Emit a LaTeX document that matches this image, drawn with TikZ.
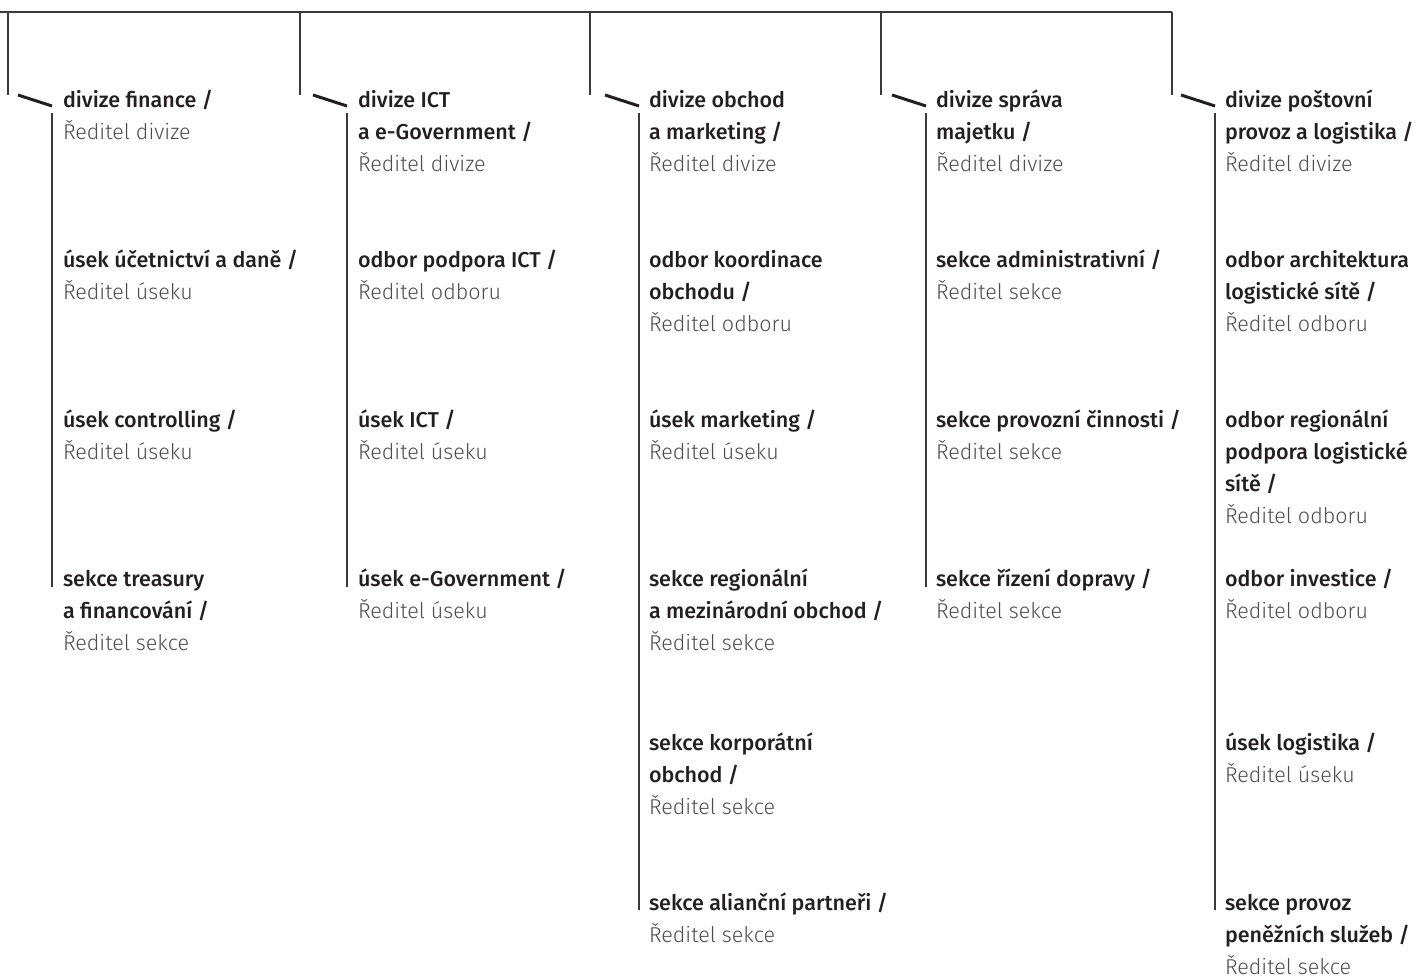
\documentclass[tikz,border=0pt]{standalone}
\usepackage{fontspec}
\setmainfont{Fira Sans}
\newfontfamily\medf{Fira Sans Medium}
\newfontfamily\lightf{Fira Sans Light}
\definecolor{ink}{HTML}{231F20}
\definecolor{soft}{HTML}{4D4D4F}
\definecolor{rule}{HTML}{3A3A3A}
\newcommand{\hd}[1]{{\medf\color{ink}#1}}
\newcommand{\rl}[1]{{\lightf\color{soft}#1}}
\newcommand{\blk}[1]{\parbox[t]{300pt}{\raggedright\leavevmode #1}}
\tikzset{
  org/.style={anchor=base west, inner sep=0pt, outer sep=0pt,
    font=\fontsize{21.5}{32}\selectfont},
  conn/.style={draw=rule, line width=1.2pt},
  tick/.style={draw=ink, line width=3pt, line cap=butt}
}
\begin{document}
\begin{tikzpicture}[x=1pt,y=-1pt]
\useasboundingbox (0,0) rectangle (1419,977);
% top bar
\coordinate (t0) at (0,12);
\coordinate (t1) at (8,12);
\coordinate (t2) at (300,12);
\coordinate (t3) at (590,12);
\coordinate (t4) at (881,12);
\coordinate (t5) at (1172,12);
\draw[conn] (t0) -- (t5);
% drops
\coordinate (d1) at (8,95);
\coordinate (d2) at (300,95);
\coordinate (d3) at (590,95);
\coordinate (d4) at (881,95);
\coordinate (d5) at (1172,95);
\foreach \i in {1,...,5} \draw[conn] (t\i) -- (d\i);
% ticks
\coordinate (k1a) at (18,95);   \coordinate (k1b) at (52,106);
\coordinate (k2a) at (313,95);  \coordinate (k2b) at (347,106);
\coordinate (k3a) at (605,95);  \coordinate (k3b) at (639,106);
\coordinate (k4a) at (892,95);  \coordinate (k4b) at (926,106);
\coordinate (k5a) at (1181,95); \coordinate (k5b) at (1215,106);
\foreach \i in {1,...,5} \draw[tick] (k\i a) -- (k\i b);
% column lines
\coordinate (v1a) at (52,113);   \coordinate (v1b) at (52,587);
\coordinate (v2a) at (347,113);  \coordinate (v2b) at (347,587);
\coordinate (v3a) at (639,113);  \coordinate (v3b) at (639,910);
\coordinate (v4a) at (926,113);  \coordinate (v4b) at (926,587);
\coordinate (v5a) at (1215,113); \coordinate (v5b) at (1215,910);
\foreach \i in {1,...,5} \draw[conn] (v\i a) -- (v\i b);
% column 1
\node[org] (a1) at (63,107) {\blk{\hd{divize finance /}\\\rl{Ředitel divize}}};
\node[org] (a2) at (63,267) {\blk{\hd{úsek účetnictví a daně /}\\\rl{Ředitel úseku}}};
\node[org] (a3) at (63,427) {\blk{\hd{úsek controlling /}\\\rl{Ředitel úseku}}};
\node[org] (a4) at (63,586) {\blk{\hd{sekce treasury}\\\hd{a financování /}\\\rl{Ředitel sekce}}};
% column 2
\node[org] (b1) at (358,107) {\blk{\hd{divize ICT}\\\hd{a e-Government /}\\\rl{Ředitel divize}}};
\node[org] (b2) at (358,267) {\blk{\hd{odbor podpora ICT /}\\\rl{Ředitel odboru}}};
\node[org] (b3) at (358,427) {\blk{\hd{úsek ICT /}\\\rl{Ředitel úseku}}};
\node[org] (b4) at (358,586) {\blk{\hd{úsek e-Government /}\\\rl{Ředitel úseku}}};
% column 3
\node[org] (c1) at (649,107) {\blk{\hd{divize obchod}\\\hd{a marketing /}\\\rl{Ředitel divize}}};
\node[org] (c2) at (649,267) {\blk{\hd{odbor koordinace}\\\hd{obchodu /}\\\rl{Ředitel odboru}}};
\node[org] (c3) at (649,427) {\blk{\hd{úsek marketing /}\\\rl{Ředitel úseku}}};
\node[org] (c4) at (649,586) {\blk{\hd{sekce regionální}\\\hd{a mezinárodní obchod /}\\\rl{Ředitel sekce}}};
\node[org] (c5) at (649,750) {\blk{\hd{sekce korporátní}\\\hd{obchod /}\\\rl{Ředitel sekce}}};
\node[org] (c6) at (649,910) {\blk{\hd{sekce alianční partneři /}\\\rl{Ředitel sekce}}};
% column 4
\node[org] (e1) at (936,107) {\blk{\hd{divize správa}\\\hd{majetku /}\\\rl{Ředitel divize}}};
\node[org] (e2) at (936,267) {\blk{\hd{sekce administrativní /}\\\rl{Ředitel sekce}}};
\node[org] (e3) at (936,427) {\blk{\hd{sekce provozní činnosti /}\\\rl{Ředitel sekce}}};
\node[org] (e4) at (936,586) {\blk{\hd{sekce řízení dopravy /}\\\rl{Ředitel sekce}}};
% column 5
\node[org] (f1) at (1225,107) {\blk{\hd{divize poštovní}\\\hd{provoz a logistika /}\\\rl{Ředitel divize}}};
\node[org] (f2) at (1225,267) {\blk{\hd{odbor architektura}\\\hd{logistické sítě /}\\\rl{Ředitel odboru}}};
\node[org] (f3) at (1225,427) {\blk{\hd{odbor regionální}\\\hd{podpora logistické}\\\hd{sítě /}\\\rl{Ředitel odboru}}};
\node[org] (f4) at (1225,586) {\blk{\hd{odbor investice /}\\\rl{Ředitel odboru}}};
\node[org] (f5) at (1225,750) {\blk{\hd{úsek logistika /}\\\rl{Ředitel úseku}}};
\node[org] (f6) at (1225,910) {\blk{\hd{sekce provoz}\\\hd{peněžních služeb /}\\\rl{Ředitel sekce}}};
\end{tikzpicture}
\end{document}
